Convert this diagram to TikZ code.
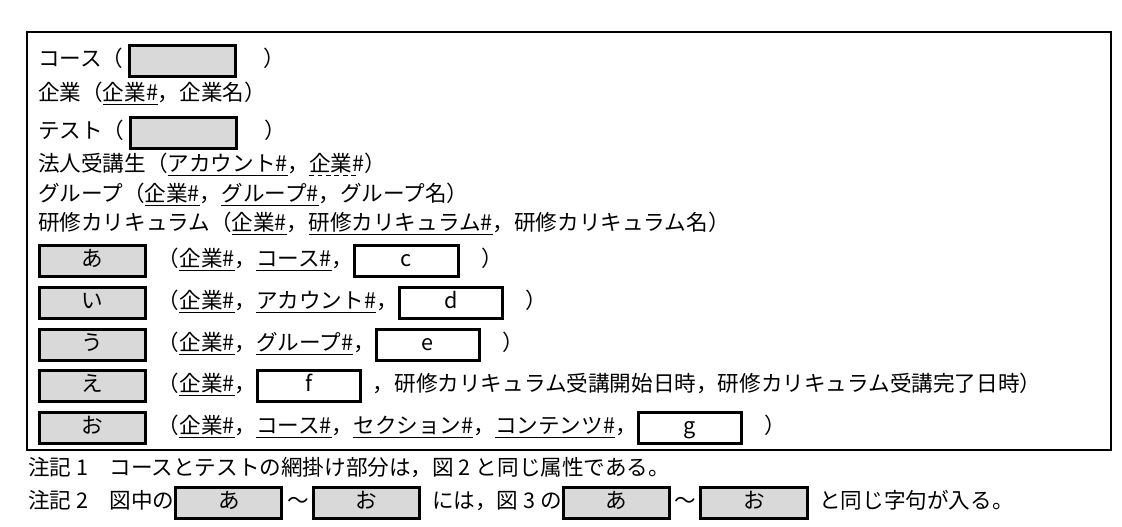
\documentclass[tikz,border=0pt]{standalone}
\usepackage{fontspec}
\newfontfamily\jp{Noto Sans CJK JP}
\usetikzlibrary{positioning}
\tikzset{
  every node/.style={inner sep=0pt,outer sep=0pt},
  row/.style={anchor=base west,font=\jp\fontsize{10.8pt}{13pt}\selectfont},
  blank/.style={draw,line width=1.5pt,minimum width=53pt,minimum height=15.5pt}
}
\newcommand\gbox[1]{\tikz[baseline=(b.base)]\node[blank,fill=gray!30] (b) {\strut#1};}
\newcommand\wbox[1]{\tikz[baseline=(b.base)]\node[blank,fill=white,minimum width=51.5pt] (b) {\strut#1};}
\newcommand\ul[1]{\setbox0\hbox{#1}\rlap{\rule[-2.4pt]{\wd0}{0.6pt}}\box0}
\newcommand\dl[1]{\setbox0\hbox{#1}\rlap{\hbox to\wd0{\leaders\hbox{\rule[-2.4pt]{2.4pt}{0.6pt}\hspace{1.8pt}}\hfill}}\box0}
\begin{document}
\begin{tikzpicture}[x=0.5pt,y=-0.5pt]
  \useasboundingbox (0,0) rectangle (1122,526);
  \draw[line width=0.8pt] (27,32) rectangle (1111,450);
  % rows
  \node[row] (course) at (38,66) {コース（ \gbox{} \quad）};
  \node[row] (kigyo) at (38,100) {企業（\ul{企業\#}，企業名）};
  \node[row] (test) at (38,138) {テスト（ \gbox{} \quad）};
  \node[row] (hojin) at (38,171) {法人受講生（\ul{アカウント\#}，\dl{企業\#}）};
  \node[row] (group) at (38,201) {グループ（\ul{企業\#}，\ul{グループ\#}，グループ名）};
  \node[row] (kenshu) at (38,230) {研修カリキュラム（\ul{企業\#}，\ul{研修カリキュラム\#}，研修カリキュラム名）};
  \node[row] (a) at (38,266) {\gbox{あ}\enspace（\ul{企業\#}，\ul{コース\#}，\wbox{c}\quad）};
  \node[row] (i) at (38,308) {\gbox{い}\enspace（\ul{企業\#}，\ul{アカウント\#}，\wbox{d}\quad）};
  \node[row] (u) at (38,350) {\gbox{う}\enspace（\ul{企業\#}，\ul{グループ\#}，\wbox{e}\quad）};
  \node[row] (e) at (38,391) {\gbox{え}\enspace（\ul{企業\#}，\wbox{f}\enspace，研修カリキュラム受講開始日時，研修カリキュラム受講完了日時）};
  \node[row] (o) at (38,433) {\gbox{お}\enspace（\ul{企業\#}，\ul{コース\#}，\ul{セクション\#}，\ul{コンテンツ\#}，\wbox{g}\quad）};
  % notes
  \node[row] (note1) at (28,475) {注記 1\quad コースとテストの網掛け部分は，図 2 と同じ属性である。};
  \node[row] (note2) at (28,508) {注記 2\quad 図中の\gbox{あ}\,～\,\gbox{お}\enspace には，図 3 の\gbox{あ}\,～\,\gbox{お}\enspace と同じ字句が入る。};
\end{tikzpicture}
\end{document}
